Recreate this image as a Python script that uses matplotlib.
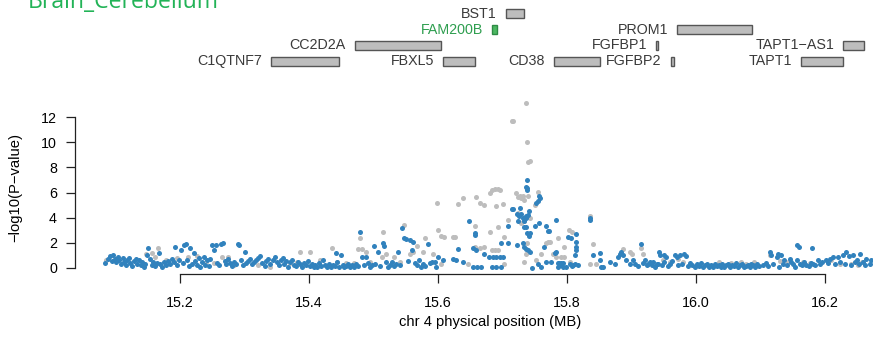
import matplotlib
matplotlib.use("Agg")
import matplotlib.pyplot as plt
from matplotlib.patches import Rectangle

plt.rcParams['font.family'] = ['Liberation Sans', 'DejaVu Sans']

# ---------------- data ----------------
tissue = "Brain_Cerebellum"
highlight_gene = "FAM200B"

gene_names = ["BST1", "FAM200B", "PROM1", "CC2D2A", "FGFBP1", "TAPT1\u2212AS1",
              "C1QTNF7", "FBXL5", "CD38", "FGFBP2", "TAPT1"]
gene_start = [15.705, 15.684, 15.971, 15.471, 15.938, 16.228,
              15.341, 15.608, 15.780, 15.961, 16.163]
gene_end = [15.733, 15.691, 16.087, 15.605, 15.941, 16.260,
            15.447, 15.657, 15.851, 15.966, 16.228]
gene_row = [1, 2, 2, 3, 3, 3, 4, 4, 4, 4, 4]

blue_x = [
    15.084, 15.088, 15.091, 15.094, 15.096, 15.099, 15.101, 15.104, 15.106, 15.108,
    15.111, 15.113, 15.116, 15.118, 15.121, 15.123, 15.126, 15.128, 15.131, 15.133,
    15.136, 15.139, 15.141, 15.144, 15.146, 15.149, 15.151, 15.153, 15.156, 15.158,
    15.161, 15.164, 15.167, 15.169, 15.172, 15.175, 15.178, 15.181, 15.184, 15.187,
    15.190, 15.193, 15.195, 15.198,
    15.201, 15.204, 15.206, 15.209, 15.211, 15.214, 15.216, 15.219, 15.221, 15.224,
    15.226, 15.229, 15.231, 15.234, 15.237, 15.239, 15.242, 15.245, 15.247, 15.250,
    15.253, 15.256, 15.258, 15.261, 15.264, 15.267, 15.269, 15.272, 15.275, 15.278,
    15.281, 15.284, 15.287, 15.290, 15.292, 15.295, 15.298, 15.300,
    15.303, 15.306, 15.309, 15.312, 15.315, 15.318, 15.321, 15.324, 15.327, 15.331,
    15.334, 15.337, 15.340, 15.344, 15.347, 15.350, 15.353, 15.356, 15.359, 15.362,
    15.365, 15.368, 15.371, 15.374, 15.377, 15.380, 15.383, 15.386, 15.389, 15.392,
    15.395, 15.398,
    15.401, 15.404, 15.407, 15.410, 15.413, 15.416, 15.419, 15.422, 15.425, 15.428,
    15.431, 15.434, 15.437, 15.440, 15.442, 15.443, 15.446, 15.449, 15.452, 15.455,
    15.458, 15.461, 15.464, 15.467, 15.470, 15.473, 15.476, 15.479, 15.482, 15.485,
    15.488, 15.491, 15.494, 15.497,
    15.501, 15.503, 15.507, 15.510, 15.514, 15.517, 15.520, 15.523, 15.526, 15.529,
    15.532, 15.535, 15.538, 15.541, 15.544, 15.547, 15.550, 15.553, 15.556, 15.559,
    15.562, 15.565, 15.568, 15.571, 15.574, 15.577, 15.580, 15.585, 15.588, 15.591,
    15.595, 15.597,
    15.600, 15.608, 15.624, 15.628, 15.631, 15.639, 15.648, 15.654, 15.654, 15.658,
    15.658, 15.659, 15.660, 15.667, 15.672, 15.679, 15.683, 15.685, 15.690, 15.690,
    15.696, 15.698, 15.698,
    15.701, 15.709, 15.709, 15.714, 15.716, 15.722, 15.722, 15.724, 15.726, 15.727,
    15.728, 15.731, 15.732, 15.733, 15.734, 15.734, 15.736, 15.737, 15.737, 15.737,
    15.737, 15.738, 15.738, 15.738, 15.738, 15.740, 15.740, 15.741, 15.741, 15.742,
    15.742, 15.745, 15.750, 15.752, 15.755, 15.755, 15.756, 15.757, 15.758, 15.760,
    15.765, 15.767, 15.768, 15.770, 15.772, 15.775, 15.781, 15.783, 15.783, 15.786,
    15.786, 15.788, 15.790, 15.791, 15.794, 15.794, 15.799,
    15.802, 15.804, 15.806, 15.808, 15.809, 15.812, 15.813, 15.814, 15.814, 15.814,
    15.814, 15.817, 15.835, 15.836, 15.840, 15.851, 15.851, 15.853, 15.856, 15.866,
    15.874, 15.879, 15.882, 15.884, 15.887, 15.892, 15.897,
    15.902, 15.905, 15.910, 15.914, 15.918, 15.921, 15.924, 15.926, 15.929, 15.931,
    15.933, 15.936, 15.939, 15.941, 15.943, 15.944, 15.947, 15.950, 15.951, 15.953,
    15.956, 15.960, 15.963, 15.967, 15.970, 15.972, 15.975, 15.978, 15.982, 15.984,
    15.987, 15.990, 15.994, 15.998,
    16.002, 16.005, 16.008, 16.011, 16.014, 16.017, 16.020, 16.023, 16.026, 16.029,
    16.032, 16.035, 16.038, 16.041, 16.044, 16.047, 16.050, 16.053, 16.056, 16.059,
    16.062, 16.065, 16.068, 16.071, 16.074, 16.077, 16.080, 16.083, 16.086, 16.089,
    16.092, 16.095, 16.098,
    16.104, 16.108, 16.112, 16.114, 16.117, 16.120, 16.125, 16.127, 16.129, 16.132,
    16.135, 16.137, 16.141, 16.145, 16.148, 16.150, 16.153, 16.156, 16.156, 16.160,
    16.161, 16.165, 16.168, 16.171, 16.175, 16.178, 16.180, 16.181, 16.185, 16.189,
    16.192, 16.196,
    16.202, 16.205, 16.207, 16.212, 16.215, 16.220, 16.224, 16.228, 16.231, 16.233,
    16.237, 16.240, 16.243, 16.246, 16.249, 16.252, 16.254, 16.259, 16.262, 16.264,
    16.269, 16.272,
]
blue_y = [
    0.40, 0.70, 0.95, 0.55, 1.00, 0.75, 0.45, 0.90, 0.60, 0.35,
    0.80, 0.50, 0.25, 0.65, 0.80, 0.40, 0.15, 0.55, 0.75, 0.30,
    0.60, 0.20, 0.45, 0.10, 0.35, 1.00, 1.60, 0.70, 0.25, 0.50,
    0.15, 0.40, 1.20, 0.30, 0.10, 0.45, 0.20, 0.55, 0.35, 0.70,
    0.50, 1.65, 0.25, 0.60,
    1.45, 0.40, 1.85, 1.90, 0.60, 0.15, 1.60, 0.35, 1.20, 0.55,
    0.20, 0.80, 0.10, 0.45, 0.90, 0.25, 0.60, 0.15, 0.70, 1.85,
    1.45, 1.85, 0.40, 0.20, 1.90, 2.00, 0.55, 0.30, 0.75, 0.40,
    0.15, 0.50, 0.35, 1.90, 1.85, 0.60, 0.20, 1.30,
    0.40, 0.55, 0.70, 0.30, 0.45, 0.65, 0.80, 0.95, 0.40, 0.15,
    0.55, 0.70, 0.30, 0.65, 0.90, 0.45, 0.20, 0.60, 0.80, 0.35,
    0.55, 0.10, 0.45, 0.65, 0.25, 0.15, 0.50, 0.30, 0.10, 0.40,
    0.20, 0.55,
    0.15, 0.35, 0.10, 0.25, 0.05, 0.40, 0.15, 0.60, 0.20, 0.10,
    0.30, 0.05, 0.20, 0.15, 1.20, 0.45, 0.10, 1.00, 0.25, 0.05,
    0.15, 0.30, 0.10, 0.20, 0.05, 0.35, 0.15, 2.90, 0.85, 0.25,
    0.90, 0.40, 0.10, 0.25,
    1.75, 0.30, 1.25, 0.15, 2.00, 1.75, 0.45, 0.10, 0.25, 0.50,
    0.15, 0.35, 1.30, 0.20, 3.20, 2.40, 2.30, 0.55, 2.20, 1.45,
    2.10, 0.40, 0.20, 0.65, 0.10, 0.30, 0.15, 1.90, 0.40, 0.45,
    0.50, 0.10,
    0.90, 0.65, 0.70, 0.65, 1.50, 0.50, 3.75, 1.55, 0.05, 2.80,
    2.60, 1.45, 0.05, 0.05, 1.15, 0.90, 0.05, 0.90, 0.90, 0.05,
    0.90, 1.95, 0.05,
    0.90, 1.95, 3.30, 4.65, 4.65, 4.30, 1.85, 3.70, 4.10, 4.80,
    4.30, 3.95, 1.95, 3.75, 3.25, 1.70, 4.15, 6.45, 3.95, 3.25,
    1.50, 6.35, 2.75, 7.00, 6.20, 4.20, 1.45, 4.55, 2.55, 2.75,
    1.30, 0.00, 3.30, 5.15, 5.35, 0.35, 3.55, 5.70, 5.55, 0.10,
    1.70, 3.30, 0.50, 2.95, 2.95, 0.50, 1.20, 3.80, 1.30, 0.40,
    0.10, 0.40, 0.20, 0.40, 0.40, 0.10, 0.10,
    2.50, 0.35, 2.35, 0.15, 0.25, 0.30, 1.05, 2.70, 2.10, 1.70,
    1.45, 0.25, 3.95, 3.80, 1.05, 1.20, 0.65, 0.10, 0.10, 0.50,
    0.35, 0.90, 1.15, 1.30, 1.05, 0.65, 0.35,
    0.65, 0.30, 0.15, 1.90, 0.40, 0.65, 0.20, 0.35, 0.50, 0.25,
    0.50, 0.10, 0.35, 0.30, 1.30, 1.05, 0.20, 0.45, 1.05, 0.90,
    0.15, 0.30, 0.55, 1.05, 0.90, 0.20, 1.05, 0.35, 1.15, 0.95,
    0.15, 0.40, 0.25, 0.10,
    0.30, 0.15, 0.40, 0.10, 0.25, 0.35, 0.10, 0.20, 0.05, 0.30,
    0.15, 0.25, 0.10, 0.35, 0.05, 0.20, 0.30, 0.10, 0.25, 0.15,
    0.40, 0.05, 0.20, 0.30, 0.10, 0.15, 0.25, 0.05, 0.35, 0.20,
    0.10, 0.30, 0.15,
    0.20, 0.40, 0.15, 1.30, 1.05, 0.30, 0.90, 1.15, 0.10, 1.05,
    0.30, 0.65, 0.20, 0.75, 0.45, 0.35, 0.10, 1.80, 0.65, 1.70,
    0.35, 0.25, 0.45, 0.25, 0.15, 0.40, 1.55, 0.35, 0.20, 0.65,
    0.30, 0.45,
    0.65, 0.40, 0.75, 0.90, 0.30, 0.90, 0.50, 1.05, 0.35, 1.30,
    0.95, 0.25, 1.05, 0.45, 0.65, 0.30, 1.15, 0.50, 0.20, 0.75,
    0.35, 0.60,
]

gray_x = [
    15.086, 15.148, 15.156, 15.161, 15.166, 15.179, 15.195,
    15.213, 15.226, 15.241, 15.252, 15.265, 15.275, 15.283,
    15.321, 15.340, 15.371, 15.381, 15.386,
    15.402, 15.417, 15.435, 15.443, 15.458, 15.469, 15.476, 15.479, 15.482, 15.489, 15.495,
    15.513, 15.515, 15.520, 15.531, 15.541, 15.548, 15.557, 15.562, 15.567, 15.577,
    15.580, 15.593,
    15.598, 15.600, 15.605, 15.605, 15.610, 15.623, 15.627, 15.631, 15.639, 15.647,
    15.657, 15.658, 15.659, 15.665, 15.665, 15.672, 15.672, 15.680, 15.681, 15.683,
    15.684, 15.688, 15.688, 15.690, 15.693, 15.693, 15.693, 15.696, 15.701, 15.702,
    15.703,
    15.709, 15.714, 15.717, 15.721, 15.724, 15.724, 15.727, 15.729, 15.729, 15.732,
    15.733, 15.734, 15.734, 15.737, 15.737, 15.738, 15.738, 15.740, 15.740, 15.742,
    15.743, 15.751, 15.752, 15.755, 15.760,
    15.768, 15.771, 15.773, 15.778, 15.783, 15.786, 15.791, 15.796, 15.796,
    15.803, 15.804, 15.808, 15.835, 15.836, 15.840, 15.845, 15.887, 15.897, 15.901,
    15.915, 15.918, 15.949, 15.959, 15.972, 15.980,
    16.036, 16.054, 16.070, 16.078, 16.090,
    16.114, 16.130, 16.143, 16.166, 16.176,
    16.205, 16.210, 16.223, 16.241, 16.251, 16.257,
]
gray_y = [
    0.60, 1.15, 1.20, 0.90, 1.55, 0.65, 0.80,
    0.90, 0.95, 0.50, 0.40, 0.90, 0.90, 0.25,
    0.25, 0.10, 0.40, 0.50, 1.30,
    1.25, 0.65, 1.60, 0.50, 0.40, 0.40, 1.50, 2.35, 1.50, 1.30, 0.50,
    0.90, 2.90, 1.15, 0.90, 0.50, 3.40, 1.15, 1.30, 1.75, 1.30,
    2.35, 1.15,
    5.15, 3.00, 2.55, 0.35, 2.50, 2.50, 2.50, 5.05, 5.55, 0.35,
    1.70, 3.35, 5.65, 1.55, 5.20, 1.70, 5.00, 6.00, 2.90, 1.45,
    6.20, 6.25, 1.45, 4.90, 6.25, 3.25, 1.45, 6.20, 5.05, 0.35,
    2.50,
    3.80, 11.70, 11.70, 5.95, 5.65, 4.35, 5.70, 5.55, 3.55, 5.70,
    3.70, 5.40, 0.50, 13.15, 1.15, 2.00, 10.05, 8.45, 5.70, 3.95,
    8.50, 5.00, 0.60, 6.05, 1.15,
    1.95, 2.10, 2.10, 1.15, 0.90, 2.35, 0.90, 1.70, 0.90,
    3.00, 0.50, 2.90, 0.35, 4.10, 1.90, 0.35, 1.50, 1.30, 1.15,
    1.55, 1.15, 0.65, 0.50, 0.75, 0.50,
    0.45, 0.40, 0.50, 0.35, 0.45,
    1.00, 0.55, 0.50, 0.50, 0.40,
    0.50, 0.60, 0.35, 0.35, 0.25, 0.45,
]

x_ticks = [15.2, 15.4, 15.6, 15.8, 16.0, 16.2]
y_ticks = [0, 2, 4, 6, 8, 10, 12]

# ---------------- figure ----------------
W, H = 873, 350
fig = plt.figure(figsize=(W / 100, H / 100), dpi=100)

x_lo, x_hi = 15.0372, 16.2744
ax = fig.add_axes([75 / W, 1 - 274 / H, (W - 75) / W, (274 - 95) / H])
ax.set_xlim(x_lo, x_hi)
ax.set_ylim(-0.477, 13.75)

ax.scatter(gray_x, gray_y, s=13, color='#bdbdbd', linewidths=0, zorder=2)
ax.scatter(blue_x, blue_y, s=13, color='#3182bd', linewidths=0, zorder=3)

for side in ['top', 'right']:
    ax.spines[side].set_visible(False)
ax.spines['left'].set_bounds(0, 12)
ax.spines['bottom'].set_bounds(15.2, 16.2)
for side in ['left', 'bottom']:
    ax.spines[side].set_linewidth(0.9)
    ax.spines[side].set_color('#222222')
ax.set_xticks(x_ticks)
ax.set_xticklabels([f"{v:.1f}" for v in x_ticks])
ax.set_yticks(y_ticks)
ax.tick_params(axis='x', length=6.5, width=0.9, pad=9, labelsize=10.3, color='#222222')
ax.tick_params(axis='y', length=6.5, width=0.9, pad=6.5, labelsize=10.3, color='#222222')

fig.text(15.5 / W, 1 - 187 / H, "\u2212log10(P\u2212value)", rotation=90,
         ha='center', va='center', fontsize=10.6)
fig.text(490 / W, 1 - 322 / H, "chr 4 physical position (MB)",
         ha='center', va='center', fontsize=10.6)

# gene track
gax = fig.add_axes([75 / W, 1 - 75 / H, (W - 75) / W, 75 / H])
gax.set_xlim(x_lo, x_hi)
gax.set_ylim(4.844, 0.156)
gax.axis('off')
box_h = 0.58
for name, s0, s1, r in zip(gene_names, gene_start, gene_end, gene_row):
    hl = name == highlight_gene
    fc = '#4cb862' if hl else '#bdbdbd'
    ec = '#2e8b45' if hl else '#555555'
    gax.add_patch(Rectangle((s0, r - box_h / 2), s1 - s0, box_h,
                            facecolor=fc, edgecolor=ec, linewidth=1.0))
    gax.annotate(name, (s0, r), xytext=(-6.5, 0), textcoords='offset points',
                 ha='right', va='center', fontsize=10.3,
                 color='#2e9e4f' if hl else '#3a3a3a')

fig.text(28 / W, 1 - 8.5 / H, tissue, color='#22b357', fontsize=16.6,
         family=['Open Sans', 'DejaVu Sans'], va='baseline', ha='left')

fig.savefig("out.png", dpi=100)
